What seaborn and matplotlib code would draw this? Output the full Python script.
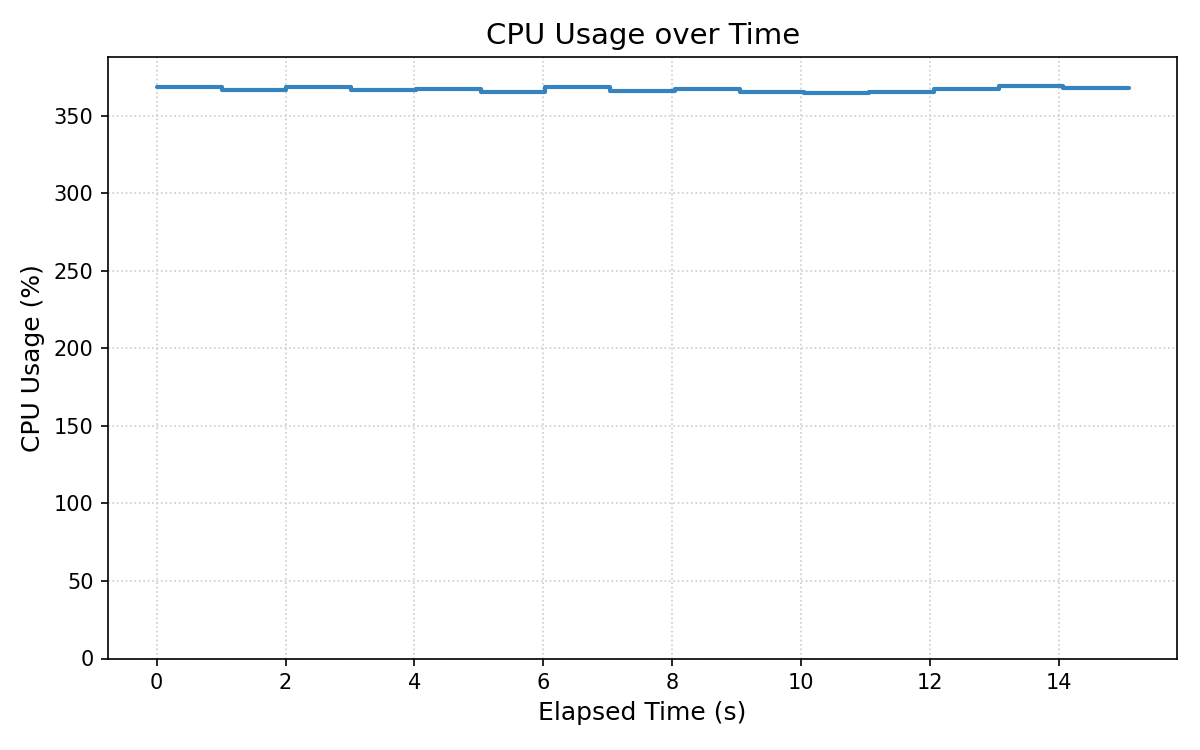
import matplotlib
matplotlib.use("Agg")
import matplotlib.pyplot as plt
import seaborn as sns
import pandas as pd

# Data (roughly one sample per second, step plot)
elapsed_s = [0.0, 1.01, 2.01, 3.02, 4.02, 5.03, 6.03, 7.04,
             8.04, 9.05, 10.05, 11.06, 12.06, 13.07, 14.07, 15.08]
cpu_pct = [368.6, 366.4, 368.8, 366.3, 367.0, 365.6, 368.8, 366.2,
           367.5, 365.5, 364.7, 365.5, 367.3, 369.4, 368.1, 368.1]

df = pd.DataFrame({"t": elapsed_s, "cpu": cpu_pct})

sns.set_style("ticks", {"axes.edgecolor": "black", "text.color": "black",
                        "axes.labelcolor": "black", "xtick.color": "black",
                        "ytick.color": "black"})
plt.rcParams["font.family"] = ["DejaVu Sans"]

fig, ax = plt.subplots(figsize=(8, 5), dpi=150)
sns.lineplot(data=df, x="t", y="cpu", ax=ax, color="#3584bf",
             linewidth=2, drawstyle="steps-post")

ax.set_ylim(0, max(cpu_pct) * 1.05)
ax.set_title("CPU Usage over Time", fontsize=14)
ax.set_xlabel("Elapsed Time (s)", fontsize=12)
ax.set_ylabel("CPU Usage (%)", fontsize=12)
ax.tick_params(labelsize=10)
ax.grid(True, linestyle=":", color="#cccccc", linewidth=0.8)

fig.subplots_adjust(left=0.09, right=0.981, top=0.924, bottom=0.122)
plt.savefig("out.png", dpi=150)
